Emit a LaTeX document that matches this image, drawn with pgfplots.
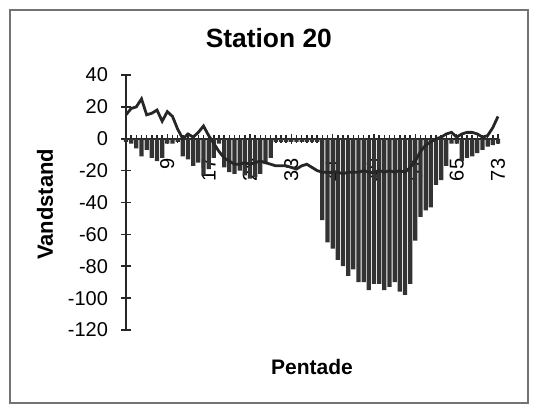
\documentclass[border=0pt]{standalone}
\usepackage{pgfplots}
\pgfplotsset{compat=1.18}
\usepackage{fontspec}
\setmainfont{Liberation Sans}

% pentade bars (Vandstand)
\pgfplotstableread{
x y
1 -2
2 -3
3 -6
4 -11
5 -7
6 -12
7 -14
8 -12
9 -3
10 -3
11 -2
12 -11
13 -13
14 -17
15 -15
16 -23
17 -19
18 -12
19 -3
20 -18
21 -21
22 -22
23 -20
24 -23
25 -25
26 -24
27 -22
28 -16
29 -12
30 -2
31 -2
32 -2
33 -2
34 -2
35 -2
36 -2
37 -2
38 -2
39 -51
40 -65
41 -69
42 -76
43 -80
44 -86
45 -82
46 -90
47 -90
48 -95
49 -91
50 -91
51 -95
52 -93
53 -90
54 -96
55 -98
56 -91
57 -64
58 -49
59 -45
60 -43
61 -29
62 -26
63 -17
64 -3
65 -3
66 -14
67 -12
68 -11
69 -9
70 -7
71 -5
72 -4
73 -3
}\bars

% line series
\pgfplotstableread{
x y
1 15
2 19
3 20
4 25
5 15
6 16
7 18
8 11
9 17
10 14
11 6
12 0
13 3
14 1
15 4
16 8
17 2
18 -3
19 -8
20 -12
21 -14
22 -16
23 -16
24 -15
25 -16
26 -15
27 -14
28 -15
29 -16
30 -17
31 -17
32 -17
33 -18
34 -19
35 -17
36 -16
37 -18
38 -20
39 -21
40 -21
41 -21
42 -21
43 -22
44 -21
45 -21
46 -21
47 -20
48 -21
49 -21
50 -20
51 -21
52 -20
53 -21
54 -20
55 -21
56 -18
57 -14
58 -8
59 -4
60 -2
61 0
62 1
63 3
64 4
65 1
66 3
67 4
68 4
69 3
70 1
71 2
72 7
73 14
}\linedata

\begin{document}
\begin{tikzpicture}
\useasboundingbox (0,0) rectangle (267.5pt,202.5pt);
\draw[black!55, line width=0.6pt] (5pt,1pt) rectangle (264pt,197.5pt);
\begin{axis}[
    at={(63pt,37.5pt)}, anchor=south west,
    scale only axis,
    width=186pt, height=127.5pt,
    xmin=1, xmax=73,
    ymin=-120, ymax=40,
    axis x line=middle,
    axis y line=left,
    axis line style={-, line width=0.9pt, black!85},
    xtick={1,9,...,73},
    minor xtick={1,...,73},
    ytick={-120,-100,...,40},
    tick align=center,
    major tick length=5pt,
    minor tick length=4pt,
    tick style={black!85, line width=0.8pt},
    /pgf/number format/assume math mode=true,
    xticklabel style={rotate=90, anchor=east, font=\fontsize{10}{10}\selectfont},
    xticklabel shift=4pt,
    yticklabel style={font=\fontsize{10}{10}\selectfont, xshift=-3pt},
    title={Station 20},
    title style={font=\bfseries\fontsize{13.2}{14}\selectfont,
        at={(axis description cs:0.384,1)}, anchor=center, yshift=12.25pt},
    xlabel={Pentade},
    xlabel style={font=\bfseries\fontsize{10.5}{11}\selectfont,
        at={(axis description cs:0.5,-0.145)}, anchor=center},
    ylabel={Vandstand},
    ylabel style={font=\bfseries\fontsize{11}{11}\selectfont,
        at={(axis description cs:-0.218,0.493)}, anchor=center},
    clip=false,
    ]

    \addplot[ybar, bar width=2.1pt, fill=black!80, draw=none] table {\bars};

    \addplot[black!85, line width=1.4pt, mark=none] table {\linedata};

\end{axis}
\end{tikzpicture}
\end{document}
